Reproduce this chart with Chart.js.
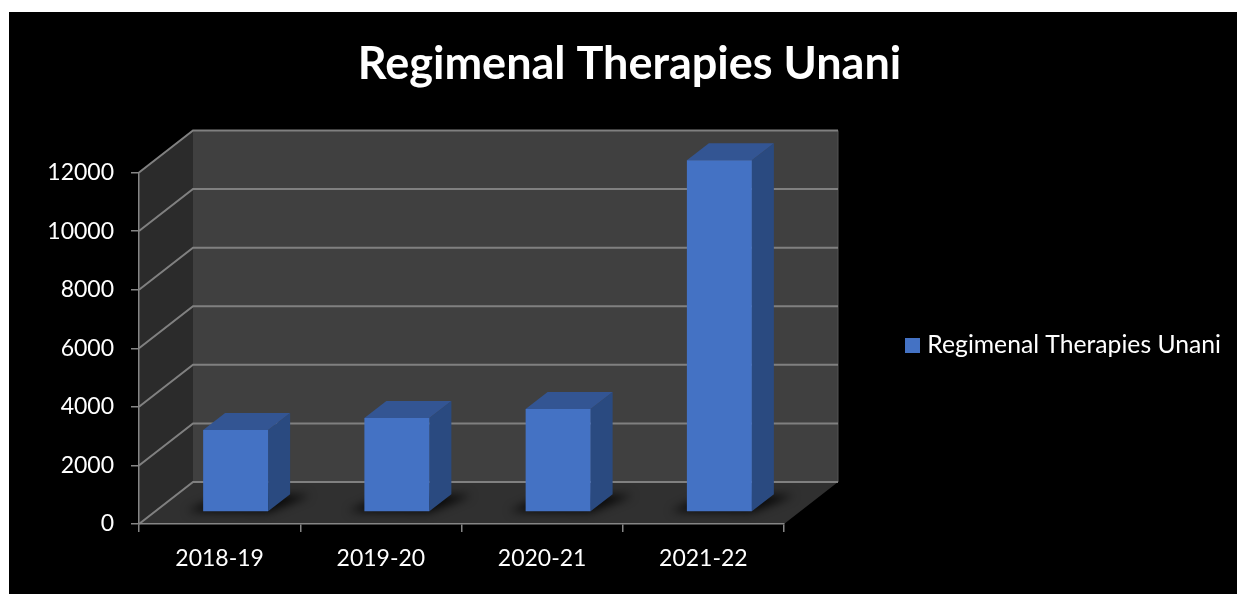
<!DOCTYPE html>
<html><head><meta charset="utf-8">
<style>html,body{margin:0;padding:0;background:#fff;overflow:hidden}
#w{position:absolute;left:9px;top:12px;width:1228px;height:582px;background:#000}</style>
<script src="https://cdn.jsdelivr.net/npm/chart.js@4"></script></head>
<body><div id="w"><canvas id="c" width="1228" height="582"></canvas></div>
<script>
const categories = ['2018-19','2019-20','2020-21','2021-22'];
const seriesName = 'Regimenal Therapies Unani';
const seriesValues = [2800, 3210, 3520, 12010];
const chartTitle = 'Regimenal Therapies Unani';
const FONT = 'Lato, "Open Sans", sans-serif';
const WALL = {x:54, y:-42};   // depth of the 3D box
const BARPLANE = {x:16, y:-12}; // where the bars' front face sits inside the box
const BARDEPTH = {x:22, y:-17};
const swatch = document.createElement('canvas');
swatch.width = 15; swatch.height = 15;
const sctx = swatch.getContext('2d'); sctx.fillStyle = '#4472c4'; sctx.fillRect(0,0,15,15);
function poly(ctx, pts, fill){ctx.beginPath();pts.forEach((p,i)=>i?ctx.lineTo(p[0],p[1]):ctx.moveTo(p[0],p[1]));ctx.closePath();ctx.fillStyle=fill;ctx.fill();}
const box3d = {
  id:'box3d',
  afterLayout(chart){
    const t=chart.titleBlock; t.left=0; t.right=1241;
    const l=chart.legend; const p=l.options.labels.padding;
    l.left=901-p; l.right=l.left+l.width;
    l.top=300; l.bottom=366;
  },
  beforeDraw(chart){
    const {ctx,chartArea:a,scales:{y}}=chart;
    const dx=WALL.x, dy=WALL.y;
    ctx.save();
    poly(ctx,[[a.left+dx,a.top+dy],[a.right+dx,a.top+dy],[a.right+dx,a.bottom+dy],[a.left+dx,a.bottom+dy]],'#404040');
    poly(ctx,[[a.left,a.top],[a.left+dx,a.top+dy],[a.left+dx,a.bottom+dy],[a.left,a.bottom]],'#2b2b2b');
    poly(ctx,[[a.left,a.bottom],[a.left+dx,a.bottom+dy],[a.right+dx,a.bottom+dy],[a.right,a.bottom]],'#303030');
    ctx.strokeStyle='#555';ctx.lineWidth=1;
    ctx.beginPath();ctx.moveTo(a.right+dx,a.top+dy);ctx.lineTo(a.right+dx,a.bottom+dy);ctx.stroke();
    ctx.strokeStyle='#808080';ctx.lineWidth=2;
    y.ticks.forEach(t=>{
      const py=y.getPixelForValue(t.value);
      ctx.beginPath();ctx.moveTo(a.left,py);ctx.lineTo(a.left+dx,py+dy);ctx.lineTo(a.right+dx,py+dy);ctx.stroke();
    });
    ctx.restore();
  },
  beforeDatasetsDraw(chart){
    const {ctx}=chart;
    const bars=chart.getDatasetMeta(0).data;
    ctx.save();
    ctx.translate(BARPLANE.x,BARPLANE.y);
    bars.forEach(b=>{
      const l=b.x-b.width/2,r=b.x+b.width/2,base=b.base,top=b.y;
      ctx.save();ctx.filter='blur(5px)';
      poly(ctx,[[l-16,base],[r,base+1],[r+BARDEPTH.x+20,base+BARDEPTH.y+1],[l+BARDEPTH.x,base+BARDEPTH.y]],'rgba(0,0,0,.85)');
      ctx.restore();
      poly(ctx,[[r,top],[r+BARDEPTH.x,top+BARDEPTH.y],[r+BARDEPTH.x,base+BARDEPTH.y],[r,base]],'#2a4a80');
      poly(ctx,[[l,top],[l+BARDEPTH.x,top+BARDEPTH.y],[r+BARDEPTH.x,top+BARDEPTH.y],[r,top]],'#335593');
    });
    ctx.restore();
    ctx.save();ctx.translate(BARPLANE.x,BARPLANE.y);
  },
  afterDatasetsDraw(chart){chart.ctx.restore();}
};
new Chart(document.getElementById('c'),{
  type:'bar',
  data:{labels:categories,datasets:[{label:seriesName,data:seriesValues,backgroundColor:'#4472c4',borderWidth:0,barPercentage:0.403,categoryPercentage:1,clip:false}]},
  plugins:[box3d],
  options:{
    responsive:false,animation:false,
    layout:{padding:{left:0,right:453,top:0,bottom:0}},
    plugins:{
      title:{display:true,text:chartTitle,color:'#fff',font:{family:FONT,size:45,weight:'bold',lineHeight:1.2},padding:{top:25,bottom:81.5}},
      legend:{position:'chartArea',align:'center',labels:{color:'#fff',font:{family:FONT,size:24.7},usePointStyle:true,pointStyle:swatch,boxWidth:5,padding:10}},
      tooltip:{enabled:false}
    },
    scales:{
      x:{type:'category',grid:{drawOnChartArea:false,color:'#858585',tickLength:8,lineWidth:1.5},border:{color:'#858585',width:1.5},
         ticks:{color:'#fff',font:{family:FONT,size:23},padding:13,maxRotation:0},afterFit(s){s.height=70;}},
      y:{min:0,max:12000,grid:{drawOnChartArea:false,color:'#858585',tickLength:8,lineWidth:1.5},border:{color:'#858585',width:1.5},
         ticks:{color:'#fff',font:{family:FONT,size:23},padding:17,stepSize:2000,callback:v=>String(v)},afterFit(s){s.width=130;}}
    }
  }
});
</script></body></html>
